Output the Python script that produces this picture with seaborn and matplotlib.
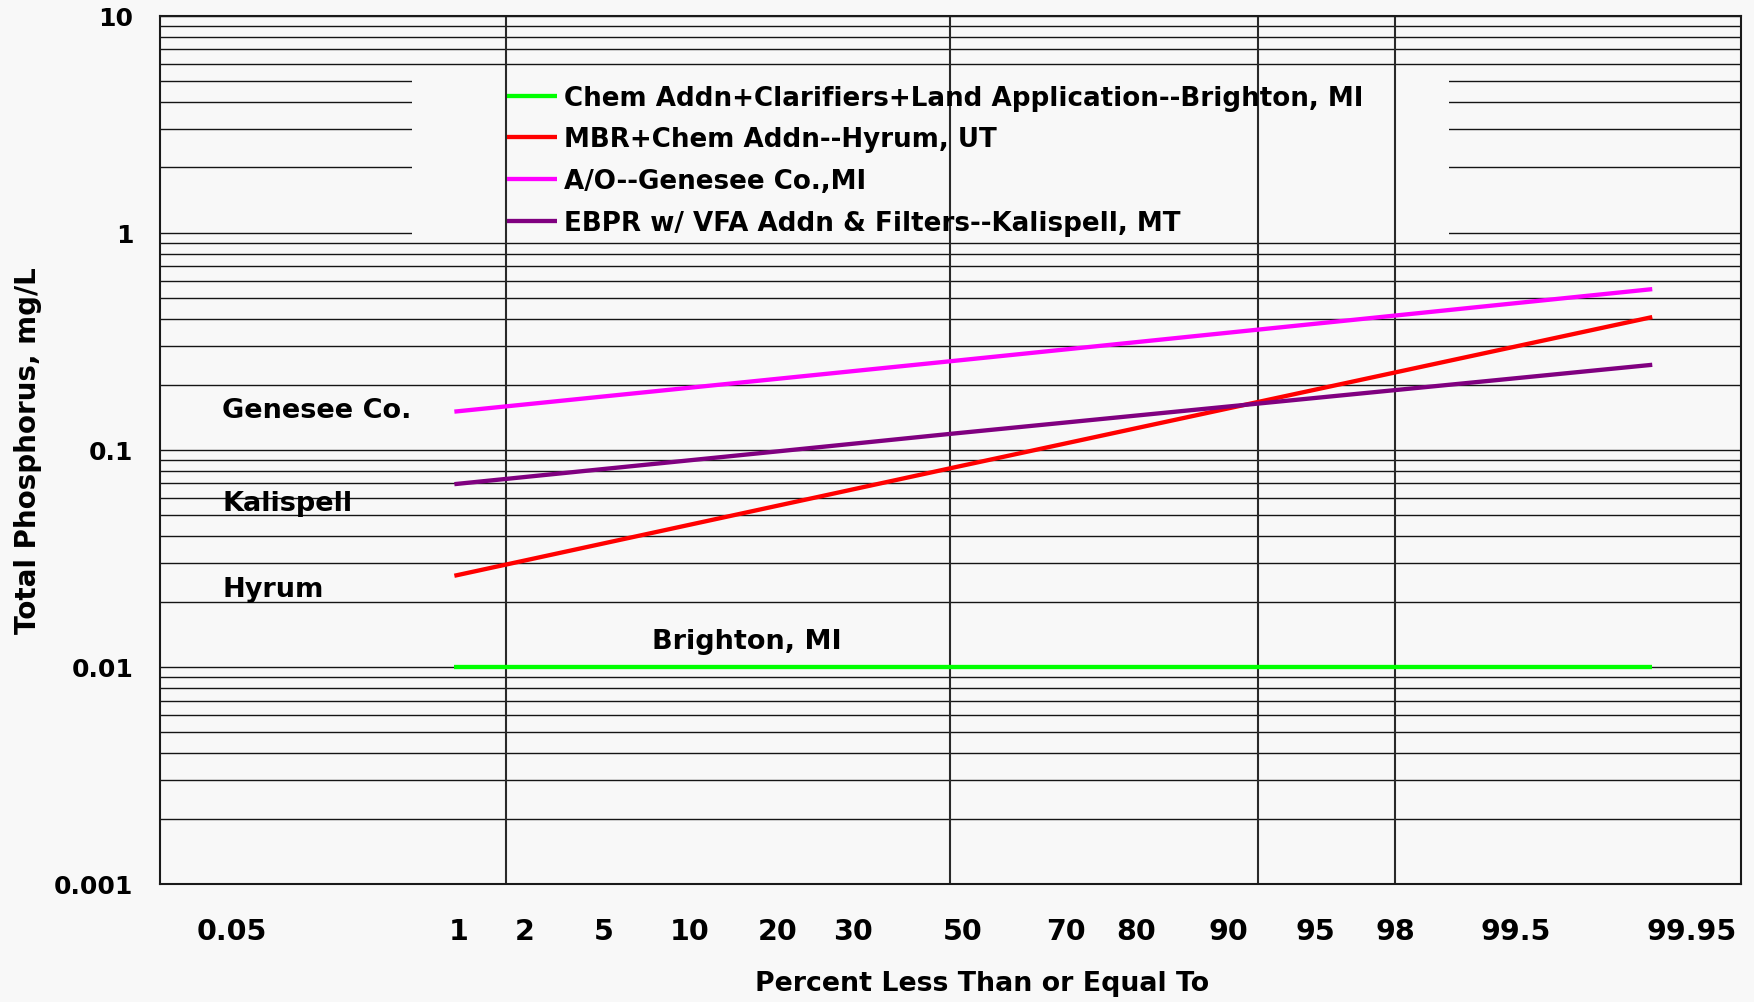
from statistics import NormalDist

import numpy as np
import pandas as pd
import matplotlib
matplotlib.use("Agg")
import matplotlib.pyplot as plt
import matplotlib.ticker as mticker
from matplotlib.patches import Rectangle
import seaborn as sns

# Lognormal fits: total phosphorus (mg/L) at "percent less than or equal to"
percentiles = [1, 50, 99.95]
brighton_tp = [0.010, 0.010, 0.010]
hyrum_tp = [0.0263, 0.0823, 0.409]
genesee_tp = [0.150, 0.256, 0.550]
kalispell_tp = [0.0695, 0.1185, 0.2465]

series_names = [
    "Chem Addn+Clarifiers+Land Application--Brighton, MI",
    "MBR+Chem Addn--Hyrum, UT",
    "A/O--Genesee Co.,MI",
    "EBPR w/ VFA Addn & Filters--Kalispell, MT",
]
series_colors = ["#00ff00", "#ff0000", "#ff00ff", "#800080"]

# Probability-axis ticks and labels
x_tick_marks = [0.05, 0.1, 0.5, 1, 2, 5, 10, 20, 30, 40, 50, 60, 70, 80,
                90, 95, 98, 99, 99.5, 99.8, 99.9, 99.95]
x_label_values = [0.05, 1, 2, 5, 10, 20, 30, 50, 70, 80, 90, 95, 98, 99.5, 99.95]
x_label_texts = ["0.05", "1", "2", "5", "10", "20", "30", "50", "70", "80",
                 "90", "95", "98", "99.5", "99.95"]
x_label_shift_px = [-17, 4, 12, 4, 12, 7, 14, 12, 4, 6, 5, 14, 7, 16, 39]
x_gridlines = [1.85, 50, 92.5, 98.14]

y_ticks = [0.001, 0.01, 0.1, 1, 10]
y_tick_labels = ["0.001", "0.01", "0.1", "1", "10"]

site_labels = ["Genesee Co.", "Kalispell", "Hyrum", "Brighton, MI"]
site_label_xy = [(0.0392, 0.5382), (0.0398, 0.4307), (0.0395, 0.3320), (0.3114, 0.2715)]

# Normal-probability scale for the percent axis
_nd = NormalDist()
_ppf = np.vectorize(lambda q: _nd.inv_cdf(min(max(q, 1e-12), 1 - 1e-12)), otypes=[float])
_cdf = np.vectorize(_nd.cdf, otypes=[float])


def pct_to_z(p):
    return _ppf(np.asarray(p, dtype=float) / 100.0)


def z_to_pct(z):
    return 100.0 * _cdf(np.asarray(z, dtype=float))


sns.set_style("white")
plt.rcParams["font.family"] = ["DejaVu Sans"]
plt.rcParams["font.weight"] = "bold"
for key in ("text.color", "axes.labelcolor", "xtick.color", "ytick.color"):
    plt.rcParams[key] = "black"

bg = "#f8f8f8"
DPI = 100
fig = plt.figure(figsize=(17.54, 10.03), dpi=DPI, facecolor=bg)
ax = fig.add_axes([160 / 1754, 118 / 1003, 1581 / 1754, 868.3 / 1003])
ax.set_facecolor(bg)

df = pd.DataFrame({
    "pct": percentiles * 4,
    "tp": brighton_tp + hyrum_tp + genesee_tp + kalispell_tp,
    "series": np.repeat(series_names, len(percentiles)),
})

sns.lineplot(data=df, x="pct", y="tp", hue="series", hue_order=series_names,
             palette=dict(zip(series_names, series_colors)), estimator=None,
             sort=False, linewidth=3.1, ax=ax, zorder=3, solid_capstyle="butt")

ax.set_yscale("log")
ax.set_xscale("function", functions=(pct_to_z, z_to_pct))
ax.set_xlim(0.0105, 99.9895)
ax.set_ylim(0.001, 10)

# Horizontal grid on every log step
ax.set_axisbelow(True)
ax.yaxis.set_major_locator(mticker.FixedLocator(y_ticks))
ax.yaxis.set_major_formatter(mticker.FixedFormatter(y_tick_labels))
ax.yaxis.set_minor_locator(mticker.LogLocator(base=10, subs=range(2, 10), numticks=20))
ax.yaxis.set_minor_formatter(mticker.NullFormatter())
ax.grid(axis="y", which="both", color="#151515", linewidth=1.0)
ax.grid(axis="x", visible=False)

# Panel behind the legend hides the horizontal grid there
ax.add_patch(Rectangle((0.1597, 0.7428), 0.8153 - 0.1597, 0.9363 - 0.7428,
                       transform=ax.transAxes, facecolor=bg, edgecolor="none", zorder=1))
for xv in x_gridlines:
    ax.axvline(xv, color="#2a2a2a", linewidth=1.5, zorder=1.5)

ax.tick_params(axis="y", which="major", direction="out", length=8.3, width=1.2,
               color="#222222", pad=11, labelsize=18)
ax.tick_params(axis="y", which="minor", length=0)
for lab in ax.get_yticklabels():
    lab.set_fontweight("bold")

ax.xaxis.set_major_locator(mticker.FixedLocator(x_tick_marks))
ax.xaxis.set_minor_locator(mticker.NullLocator())
ax.tick_params(axis="x", which="major", direction="in", length=12.7, width=1.0,
               color="#555555", labelbottom=False)

px = 72.0 / DPI
for val, txt, dx in zip(x_label_values, x_label_texts, x_label_shift_px):
    ax.annotate(txt, xy=(val, 0), xycoords=("data", "axes fraction"),
                xytext=(dx * px, -47.5 * px), textcoords="offset points",
                ha="center", va="center", fontsize=20.5, fontweight="bold",
                annotation_clip=False)

for spine in ax.spines.values():
    spine.set_visible(True)
    spine.set_color("#1a1a1a")
    spine.set_linewidth(1.5)

ax.set_xlabel("Percent Less Than or Equal To", fontsize=19.3, fontweight="bold")
ax.set_ylabel("Total Phosphorus, mg/L", fontsize=20, fontweight="bold")
ax.xaxis.set_label_coords(0.52, -0.1145)
ax.xaxis.label.set_verticalalignment("center")
ax.yaxis.set_label_coords(-0.0835, 0.5)
ax.yaxis.label.set_verticalalignment("center")

for txt, (xa, ya) in zip(site_labels, site_label_xy):
    ax.text(xa, ya, txt, transform=ax.transAxes, ha="left", va="baseline",
            fontsize=19.5, fontweight="bold", zorder=4)

handles, labels = ax.get_legend_handles_labels()
leg = ax.legend(handles, labels, loc="upper left", bbox_to_anchor=(0.2197, 0.9205),
                frameon=False, fontsize=18.8, handlelength=1.9, handletextpad=0.28,
                labelspacing=0.6, borderpad=0, borderaxespad=0)
for t in leg.get_texts():
    t.set_fontweight("bold")
leg.set_zorder(5)

fig.savefig("out.png", dpi=DPI, facecolor=fig.get_facecolor())
